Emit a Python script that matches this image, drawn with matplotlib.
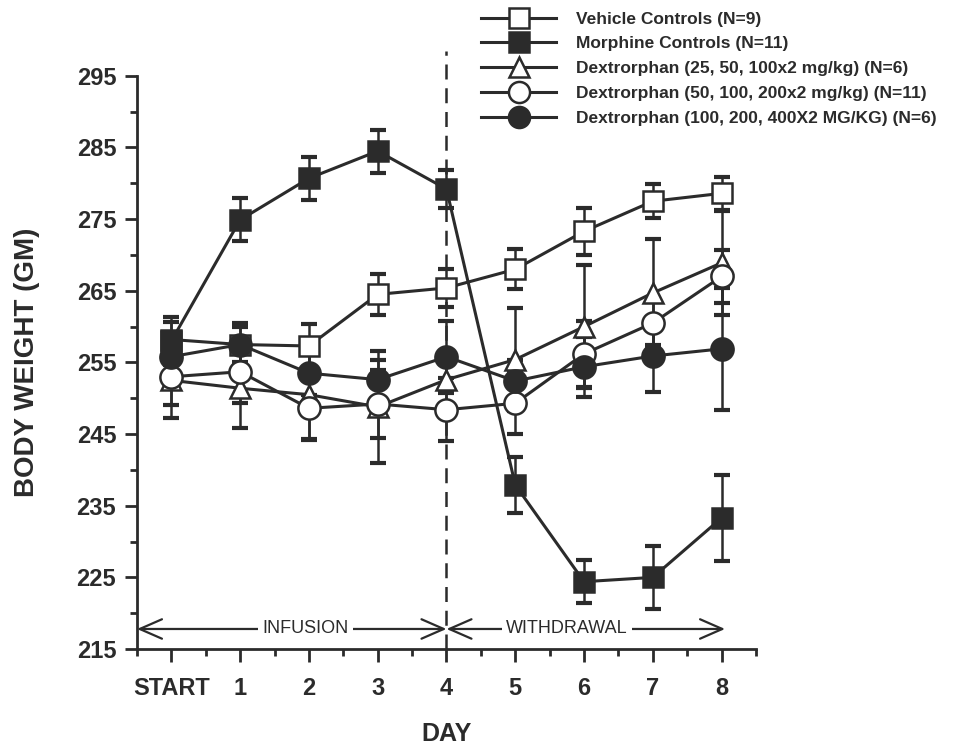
import numpy as np
import matplotlib
matplotlib.use("Agg")
import matplotlib.pyplot as plt

days = [0, 1, 2, 3, 4, 5, 6, 7, 8]
day_labels = ["START", "1", "2", "3", "4", "5", "6", "7", "8"]

vehicle = [258.2, 257.5, 257.3, 264.5, 265.4, 268.0, 273.3, 277.5, 278.6]
vehicle_se = [2.5, 2.5, 3.0, 2.9, 2.6, 2.8, 3.3, 2.4, 2.3]
morphine = [258.0, 274.9, 280.7, 284.5, 279.2, 237.9, 224.4, 225.0, 233.3]
morphine_se = [3.3, 3.0, 3.0, 3.0, 2.7, 3.9, 3.0, 4.4, 6.0]
dex25 = [252.5, 251.4, 250.5, 248.8, 252.6, 255.4, 260.0, 264.7, 268.9]
dex25_se = [5.2, 5.6, 6.3, 7.8, 3.5, 7.2, 8.6, 7.5, 7.3]
dex50 = [253.0, 253.7, 248.6, 249.2, 248.4, 249.3, 256.2, 260.5, 267.0]
dex50_se = [3.9, 4.3, 4.3, 4.8, 4.4, 4.3, 4.6, 3.0, 3.7]
dex100 = [255.8, 257.5, 253.5, 252.6, 255.8, 252.4, 254.4, 255.9, 256.9]
dex100_se = [3.0, 3.0, 3.0, 2.8, 5.0, 3.0, 4.2, 5.0, 8.5]

labels = ["Vehicle Controls (N=9)",
          "Morphine Controls (N=11)",
          "Dextrorphan (25, 50, 100x2 mg/kg) (N=6)",
          "Dextrorphan (50, 100, 200x2 mg/kg) (N=11)",
          "Dextrorphan (100, 200, 400X2 MG/KG) (N=6)"]

ink = "#2b2b2b"
plt.rcParams['font.family'] = ['Liberation Sans', 'DejaVu Sans']

fig = plt.figure(figsize=(9.68, 7.48), dpi=100)
ax = fig.add_axes([0.1415, 0.1323, 0.6395, 0.7663])

# (values, se, marker, face, size)
series = [
    (vehicle, vehicle_se, "s", "white", 15),
    (dex25, dex25_se, "^", "white", 15),
    (dex50, dex50_se, "o", "white", 16),
    (dex100, dex100_se, "o", ink, 16),
    (morphine, morphine_se, "s", ink, 15),
]
order = [0, 2, 3, 4, 1]
handles = [None] * 5
for (vals, se, mk, fc, ms), idx in zip(series, order):
    ax.errorbar(days, vals, yerr=se, fmt="none", ecolor=ink, elinewidth=1.8,
                capsize=6, capthick=3, zorder=2)
    ln, = ax.plot(days, vals, color=ink, lw=2.2, marker=mk, ms=ms,
                  mfc=fc, mec=ink, mew=1.8, zorder=3)
    handles[idx] = ln

# drug period separator
ax.plot([4, 4], [215, 298.5], color=ink, lw=1.8, dashes=(6, 3.5), clip_on=False, zorder=1)

# infusion / withdrawal arrows
astyle = dict(arrowstyle="<->,head_length=0.8,head_width=0.35", color=ink, lw=1.6,
              mutation_scale=20, shrinkA=0, shrinkB=0)
ax.annotate("", xy=(-0.5, 217.8), xytext=(4, 217.8), arrowprops=astyle)
ax.annotate("", xy=(4, 217.8), xytext=(8.05, 217.8), arrowprops=astyle)
ax.text(1.95, 217.8, "INFUSION", fontsize=13, ha="center", va="center",
        color=ink, bbox=dict(boxstyle="square,pad=0.25", fc="white", ec="none"))
ax.text(5.75, 217.8, "WITHDRAWAL", fontsize=13, ha="center", va="center",
        color=ink, bbox=dict(boxstyle="square,pad=0.25", fc="white", ec="none"))

ax.set_xlim(-0.5, 8.5)
ax.set_ylim(215, 295)
ax.set_xticks(days)
ax.set_xticklabels(day_labels)
ax.set_xticks(np.arange(-0.5, 8.6, 0.5), minor=True)
ax.set_yticks(np.arange(215, 296, 10))
ax.set_yticks(np.arange(220, 295, 10), minor=True)
ax.spines["top"].set_visible(False)
ax.spines["right"].set_visible(False)
for s in ("left", "bottom"):
    ax.spines[s].set_linewidth(2)
    ax.spines[s].set_color(ink)
ax.tick_params(axis="both", which="major", direction="out", length=9, width=2,
               color=ink, labelsize=17, labelcolor=ink)
ax.tick_params(axis="both", which="minor", direction="out", length=5, width=2, color=ink)
ax.tick_params(axis="x", which="major", pad=11)
ax.tick_params(axis="y", which="major", pad=6)
for t in ax.get_xticklabels() + ax.get_yticklabels():
    t.set_fontweight("bold")

ax.set_xlabel("DAY", fontsize=18, fontweight="bold", color=ink, labelpad=16)
ax.set_ylabel("BODY WEIGHT (GM)", fontsize=20, fontweight="bold", color=ink, labelpad=26)

fig.legend(handles, labels, loc="upper left", bbox_to_anchor=(0.483, 1.003),
           frameon=False, prop={"weight": "bold", "size": 12.5},
           handlelength=4.3, handletextpad=1.15, labelspacing=0.55, borderpad=0.3,
           markerscale=0.95, labelcolor=ink)

fig.savefig("out.png", dpi=100, facecolor="white")
